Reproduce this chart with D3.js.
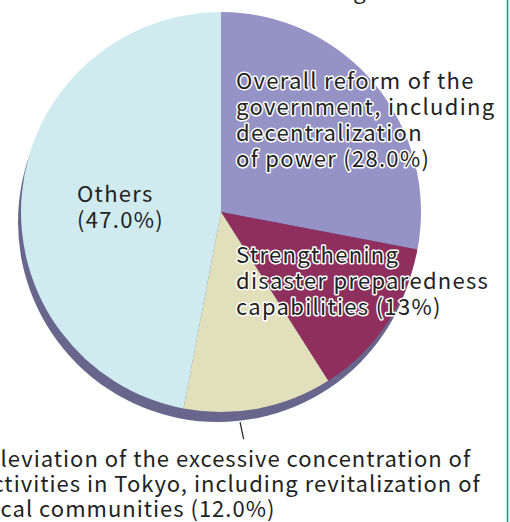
<!DOCTYPE html>
<html>
<head>
<meta charset="utf-8">
<script src="https://cdn.jsdelivr.net/npm/d3@7"></script>
<style>
    body { margin: 0; background: #fff; overflow: hidden; }
    svg { display: block; }
</style>
</head>
<body>
<div id="chart"></div>
<script>
const labels = [
    ["Overall reform of the", "government, including", "decentralization", "of power (28.0%)"],
    ["Strengthening", "disaster preparedness", "capabilities (13%)"],
    ["Alleviation of the excessive concentration of", "activities in Tokyo, including revitalization of", "local communities (12.0%)"],
    ["Others", "(47.0%)"]
]
const values = [28, 13, 12, 47]
const colors = ['#9592c6', '#8e2f5d', '#e2e0bb', '#cfebf0']

const w = 510
const h = 522
const cx = 221
const cy = 212
const r = 200

const svg = d3.select('#chart')
    .append('svg')
    .attr('width', w)
    .attr('height', h)

const pie = d3.pie()
    .sort(null)
    .value(d => d)

const arcs = pie(values)

const arc = d3.arc()
    .innerRadius(0)
    .outerRadius(r)

const fontStyle = (sel) => sel
    .style('font-family', '"Noto Sans CJK JP", sans-serif')
    .style('font-size', '22px')
    .style('letter-spacing', '1.3px')
    .style('fill', '#222')

// title mostly cut off at top, only descender shows
svg.append('text')
    .attr('x', 367)
    .attr('y', -1)
    .attr('text-anchor', 'end')
    .call(fontStyle)
    .text('Priorities following')

// right frame line
svg.append('rect')
    .attr('x', 508)
    .attr('y', 0)
    .attr('width', 2)
    .attr('height', h)
    .attr('fill', '#e4f5f3')
svg.append('line')
    .attr('x1', 507.5)
    .attr('x2', 507.5)
    .attr('y1', 0)
    .attr('y2', h)
    .attr('stroke', '#1a9d8e')
    .attr('stroke-width', 1.5)

// shadow
svg.append('circle')
    .attr('cx', cx - 3)
    .attr('cy', cy + 10)
    .attr('r', r)
    .attr('fill', '#69668e')

const g = svg.append('g')
    .attr('transform', 'translate(' + cx + ',' + cy + ')')

g.selectAll('path')
    .data(arcs)
    .enter()
    .append('path')
    .attr('d', arc)
    .attr('fill', (d, i) => colors[i])

// leader line for the bottom label
const leadAngle = arcs[2].startAngle + (arcs[2].endAngle - arcs[2].startAngle) * 0.63
const leadIn = d3.pointRadial(leadAngle, r + 11)
const leadOut = d3.pointRadial(leadAngle, r + 28)
g.append('line')
    .attr('x1', leadIn[0])
    .attr('y1', leadIn[1])
    .attr('x2', leadOut[0] + 2)
    .attr('y2', leadOut[1])
    .attr('stroke', '#222')
    .attr('stroke-width', 1.2)

const labelPos = [
    { x: 236, y: 89, halo: true, ls: 1.3 },
    { x: 236, y: 263, halo: true, ls: 1.3 },
    { x: -21, y: 467, halo: false, ls: 1.0 },
    { x: 77, y: 202, halo: false, ls: 1.3 }
]

labels.forEach((lines, i) => {
    const t = svg.append('text')
        .attr('x', labelPos[i].x)
        .attr('y', labelPos[i].y)
        .call(fontStyle)
        .style('letter-spacing', labelPos[i].ls + 'px')
    if (labelPos[i].halo) {
        t.style('stroke', '#fff')
            .style('stroke-width', 3)
            .style('stroke-linejoin', 'round')
            .style('paint-order', 'stroke')
    }
    t.selectAll('tspan')
        .data(lines)
        .enter()
        .append('tspan')
        .attr('x', labelPos[i].x)
        .attr('dy', (d, j) => j === 0 ? 0 : (i === 2 ? 25 : 26))
        .text(d => d)
})
</script>
</body>
</html>
